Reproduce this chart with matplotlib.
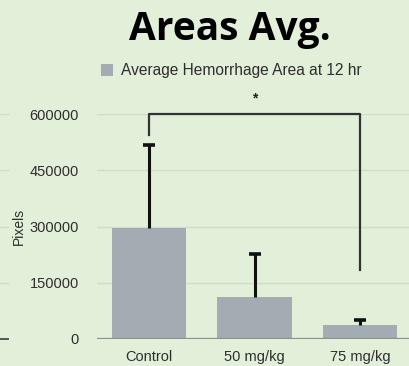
import matplotlib.pyplot as plt
from matplotlib.transforms import blended_transform_factory

groups = ['Control', '50 mg/kg', '75 mg/kg']
mean_area = [296000, 112000, 36500]
err_upper = [222000, 114000, 15000]
y_ticks = [0, 150000, 300000, 450000, 600000]

legend_label = 'Average Hemorrhage Area at 12 hr'
title = 'Areas Avg.'

# significance bracket: Control vs 75 mg/kg
bracket_top = 600000
bracket_left_end = 545000
bracket_right_end = 185000

bg = '#e2efd9'
bar_color = '#a3abb3'
text_color = '#2e2e2e'

plt.rcParams['font.family'] = 'Liberation Sans'

fig = plt.figure(figsize=(4.10, 3.66), dpi=100)
fig.patch.set_facecolor(bg)
ax = fig.add_axes([97 / 410, 1 - 339 / 366, 313 / 410, 225 / 366])
ax.set_facecolor(bg)

x = list(range(len(groups)))
bars = ax.bar(x, mean_area, width=0.71, color=bar_color, zorder=2)

# upper-only error bars
tops = [m + e for m, e in zip(mean_area, err_upper)]
ax.vlines(x, mean_area, tops, color='#111111', linewidth=2.2, zorder=3)
ax.plot(x, tops, linestyle='none', marker='_', markersize=9,
        markeredgewidth=2.6, color='#111111', zorder=3)

ax.set_xlim(-0.493, 2.474)
ax.set_ylim(0, 600000)
ax.set_yticks(y_ticks)
ax.set_yticklabels([str(v) for v in y_ticks])
ax.set_xticks(x)
ax.set_xticklabels(groups)
ax.tick_params(axis='both', length=0, labelsize=10.5, colors=text_color)
ax.tick_params(axis='y', pad=13)
ax.tick_params(axis='x', pad=8)

ax.grid(axis='y', color='#cfdcc6', linewidth=1.0, zorder=0)
for s in ax.spines.values():
    s.set_visible(False)
ax.axhline(0, color='#8b9388', linewidth=1.6, zorder=4)

ax.set_ylabel('Pixels', fontsize=10, color=text_color)
ax.yaxis.set_label_coords(-0.228, 0.5)

# bracket and asterisk
ax.plot([0, 0, 2, 2], [bracket_left_end, bracket_top, bracket_top, bracket_right_end],
        color='#333333', linewidth=1.6, clip_on=False, zorder=5)
ax.text(1, bracket_top + 22000, '*', ha='center', va='bottom', fontsize=10,
        fontweight='bold', color='#222222')

# short grid stubs at the left edge
tr = blended_transform_factory(fig.transFigure, ax.transData)
for v in y_ticks[1:]:
    ax.plot([0, 8 / 410], [v, v], color='#cfdcc6', linewidth=1.0,
            transform=tr, clip_on=False)
ax.plot([0, 8 / 410], [0, 0], color='#555555', linewidth=1.4,
        transform=tr, clip_on=False)

fig.legend(handles=[bars], labels=[legend_label], loc='center left',
           bbox_to_anchor=(101 / 410, 1 - 71 / 366), frameon=False,
           fontsize=11.2, handlelength=0.75, handleheight=0.75,
           handletextpad=0.55, borderpad=0, borderaxespad=0,
           labelcolor=text_color)

fig.text(229.5 / 410, 1 - 40 / 366, title, ha='center', va='baseline',
         fontsize=28, fontweight='bold', family='Open Sans', color='black')

fig.savefig('out.png', dpi=100, facecolor=bg)
